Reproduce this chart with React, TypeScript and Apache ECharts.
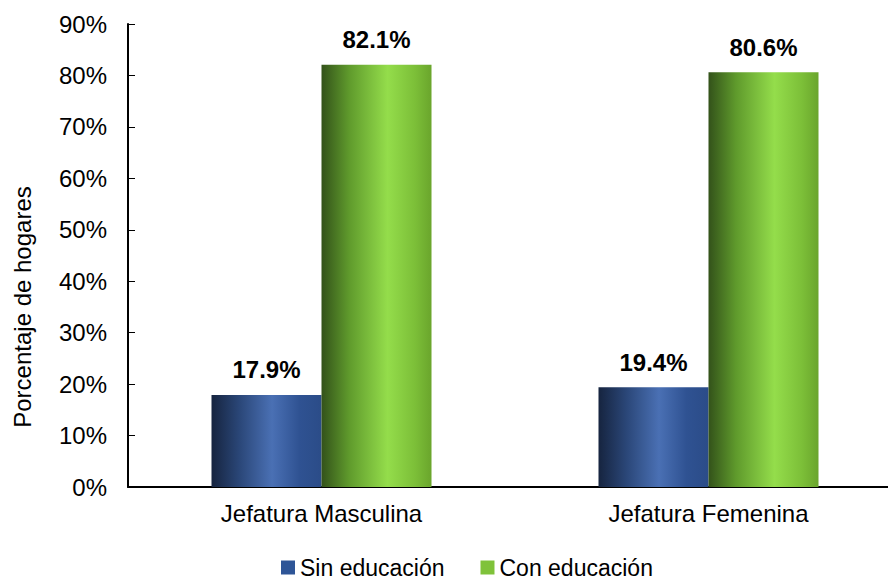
import React, { useEffect, useRef } from "react";
import * as echarts from "echarts";

const categories = ["Jefatura Masculina", "Jefatura Femenina"];
const sinEducacion = [17.9, 19.4];
const conEducacion = [82.1, 80.6];
const yTicks = [0, 10, 20, 30, 40, 50, 60, 70, 80, 90];

const blueGrad = new echarts.graphic.LinearGradient(0, 0, 1, 0, [
  { offset: 0, color: "#16243f" },
  { offset: 0.25, color: "#2a4677" },
  { offset: 0.55, color: "#4a70b4" },
  { offset: 0.8, color: "#2f5292" },
  { offset: 1, color: "#2b4c88" },
]);
const greenGrad = new echarts.graphic.LinearGradient(0, 0, 1, 0, [
  { offset: 0, color: "#33521a" },
  { offset: 0.25, color: "#5f9a2c" },
  { offset: 0.6, color: "#94dd4b" },
  { offset: 0.85, color: "#7cbf38" },
  { offset: 1, color: "#6aa52c" },
]);

export default function App() {
  const ref = useRef<HTMLDivElement>(null);
  useEffect(() => {
    if (!ref.current) return;
    const chart = echarts.init(ref.current, null, { renderer: "svg" });
    const font = "Arial, 'Liberation Sans', sans-serif";
    const label = {
      show: true,
      position: "top",
      distance: 13,
      formatter: (p: any) => p.value.toFixed(1) + "%",
      fontFamily: font,
      fontSize: 24,
      fontWeight: "bold",
      color: "#000",
    };
    chart.setOption({
      animation: false,
      textStyle: { fontFamily: font },
      grid: { left: 128, top: 24, width: 774, height: 463, outerBoundsMode: "none", containLabel: false },
      legend: {
        top: 551,
        left: 276,
        itemWidth: 14,
        itemHeight: 14,
        itemGap: 36,
        icon: "rect",
        textStyle: { fontSize: 23, lineHeight: 23, color: "#000", fontFamily: font },
        data: [
          { name: "Sin educación", itemStyle: { color: "#2e5597" } },
          { name: "Con educación", itemStyle: { color: "#7fc23a" } },
        ],
      },
      xAxis: {
        type: "category",
        data: categories,
        axisLine: { lineStyle: { color: "#000", width: 2 } },
        axisTick: { show: false },
        axisLabel: { fontSize: 24, color: "#000", margin: 14, fontFamily: font },
      },
      yAxis: {
        type: "value",
        min: yTicks[0],
        max: yTicks[yTicks.length - 1],
        interval: 10,
        axisLine: { show: true, lineStyle: { color: "#000", width: 2 } },
        axisTick: { show: true, inside: true, length: 7, lineStyle: { color: "#000" } },
        splitLine: { show: false },
        axisLabel: {
          fontSize: 24,
          color: "#000",
          margin: 21,
          fontFamily: font,
          formatter: (v: number) => v + "%",
        },
      },
      graphic: [
        {
          type: "text",
          x: 10,
          y: 307,
          rotation: Math.PI / 2,
          style: {
            text: "Porcentaje de hogares",
            fontSize: 24,
            fontFamily: font,
            fill: "#000",
            align: "center",
            verticalAlign: "top",
          },
        },
      ],
      series: [
        {
          name: "Sin educación",
          type: "bar",
          data: sinEducacion,
          barWidth: 110,
          barGap: "0%",
          itemStyle: { color: blueGrad },
          label,
        },
        {
          name: "Con educación",
          type: "bar",
          data: conEducacion,
          barWidth: 110,
          itemStyle: { color: greenGrad },
          label,
        },
      ],
    });
    return () => chart.dispose();
  }, []);
  return (
    <div
      ref={ref}
      style={{ position: "absolute", left: 0, top: 0, width: 888, height: 580 }}
    />
  );
}
